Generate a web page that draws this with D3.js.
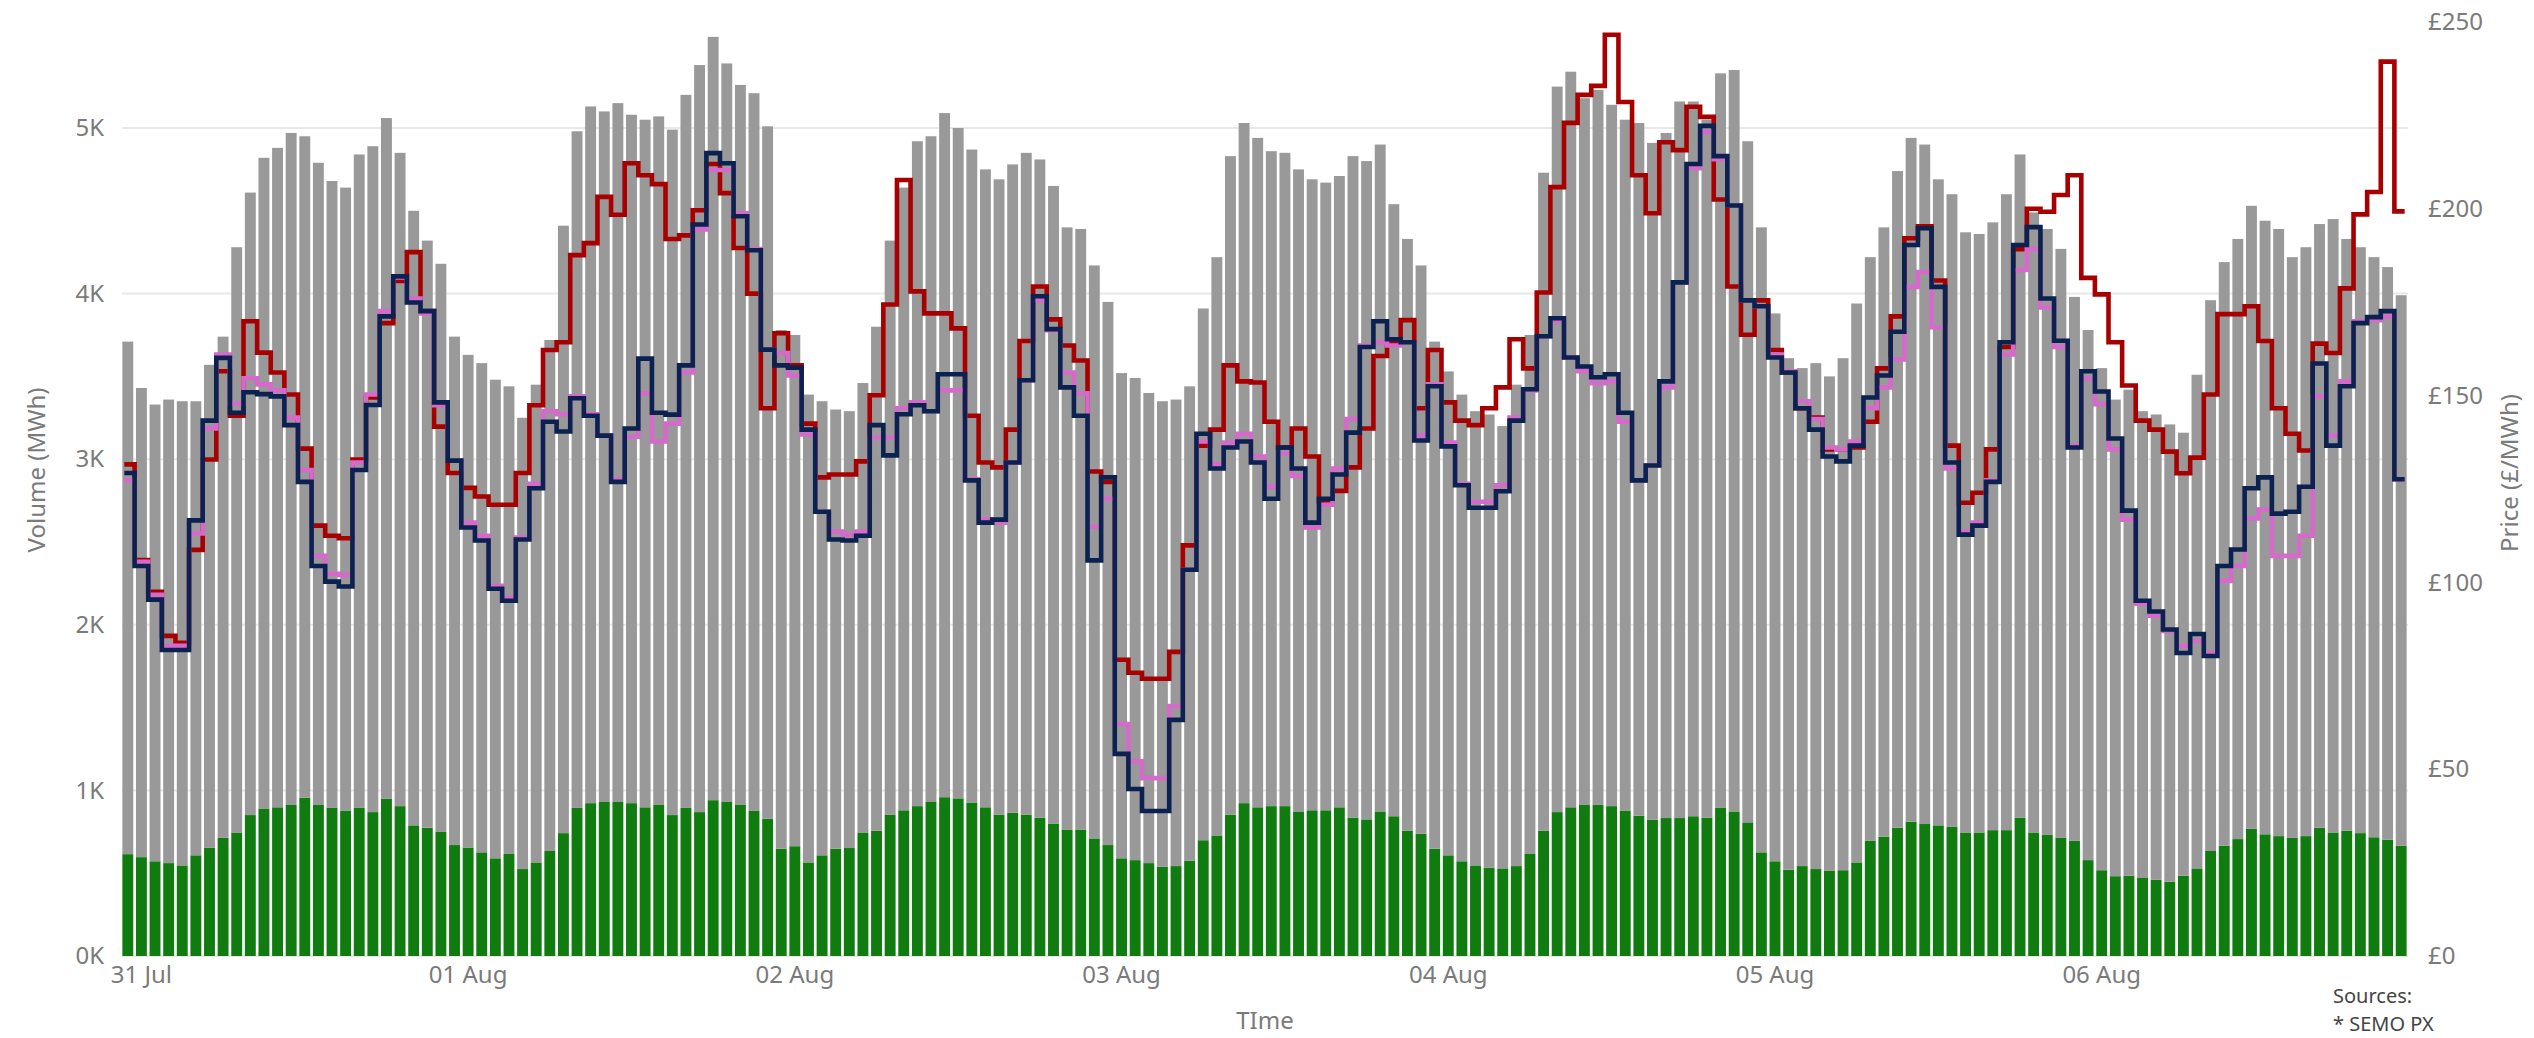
<!DOCTYPE html>
<html>
<head>
<meta charset="utf-8">
<script src="https://cdn.jsdelivr.net/npm/d3@7"></script>
<style>
  html, body { margin: 0; padding: 0; background: #fff; }
  svg { display: block; font-family: "Segoe UI", "Noto Sans", sans-serif; }
</style>
</head>
<body>
<svg width="2534" height="1038"></svg>
<script>
// hourly volumes (MWh), 168 hours
const volumeTotal = [
  3710, 3430, 3330, 3360, 3350, 3350, 3570, 3740, 4280, 4610,
  4820, 4880, 4970, 4950, 4790, 4680, 4640, 4840, 4890, 5060,
  4850, 4500, 4320, 4180, 3740, 3630, 3580, 3480, 3440, 3250,
  3450, 3720, 4410, 4980, 5130, 5100, 5150, 5080, 5050, 5070,
  4990, 5200, 5380, 5550, 5390, 5260, 5210, 5010, 3780, 3750,
  3390, 3350, 3300, 3290, 3460, 3800, 4320, 4640, 4920, 4950,
  5090, 5000, 4870, 4750, 4690, 4780, 4850, 4810, 4650, 4400,
  4390, 4170, 3950, 3520, 3490, 3400, 3350, 3360, 3440, 3910,
  4220, 4830, 5030, 4940, 4860, 4850, 4750, 4690, 4670, 4710,
  4830, 4800, 4900, 4540, 4330, 4170, 3710, 3530, 3390, 3290,
  3270, 3200, 3450, 3750, 4730, 5250, 5340, 5180, 5230, 5140,
  5050, 5030, 4910, 4970, 5160, 5160, 5050, 5330, 5350, 4920,
  4400, 3880, 3610, 3550, 3580, 3500, 3610, 3940, 4220, 4400,
  4740, 4940, 4900, 4690, 4600, 4370, 4360, 4430, 4600, 4840,
  4490, 4390, 4270, 3980, 3780, 3550, 3360, 3420, 3290, 3270,
  3210, 3160, 3510, 3960, 4190, 4330, 4530, 4440, 4390, 4220,
  4280, 4420, 4450, 4330, 4280, 4220, 4160, 3990
];

const volumeGreen = [
  615, 597, 572, 561, 547, 608, 655, 713, 746, 851,
  891, 898, 912, 956, 912, 894, 876, 894, 869, 949,
  905, 789, 775, 749, 670, 655, 626, 590, 616, 525,
  565, 634, 742, 894, 923, 930, 930, 923, 898, 912,
  851, 894, 869, 941, 930, 912, 876, 829, 648, 663,
  565, 608, 648, 652, 746, 757, 854, 880, 905, 930,
  959, 952, 927, 898, 854, 865, 854, 836, 800, 764,
  764, 710, 670, 590, 579, 561, 539, 543, 576, 699,
  728, 854, 923, 898, 905, 905, 873, 880, 880, 898,
  836, 825, 873, 844, 757, 739, 648, 608, 572, 547,
  532, 529, 543, 616, 757, 869, 898, 912, 912, 905,
  876, 847, 822, 833, 833, 844, 836, 894, 873, 807,
  626, 572, 521, 543, 525, 514, 518, 565, 695, 720,
  775, 811, 797, 789, 782, 746, 746, 760, 760, 836,
  746, 731, 713, 695, 579, 518, 482, 485, 471, 460,
  449, 485, 529, 634, 666, 706, 768, 735, 724, 713,
  724, 775, 746, 757, 742, 717, 702, 666
];

// hourly prices (£/MWh)
const priceRed = [
  131.6, 106.0, 97.5, 85.7, 83.8, 108.7, 132.9, 156.5, 144.6, 169.9,
  161.5, 156.2, 150.3, 135.8, 115.2, 112.5, 111.8, 132.9, 149.5, 169.4,
  180.7, 188.4, 172.6, 141.7, 129.3, 125.3, 123.0, 120.8, 120.8, 129.3,
  147.4, 162.2, 164.3, 187.6, 190.8, 203.2, 198.4, 212.2, 209.0, 206.6,
  191.9, 192.9, 199.6, 212.0, 204.2, 189.5, 177.3, 146.6, 166.7, 158.1,
  142.5, 128.1, 128.9, 128.9, 132.4, 150.1, 174.4, 207.7, 177.9, 172.0,
  172.0, 168.0, 144.6, 132.1, 130.8, 140.9, 164.6, 179.2, 170.4, 163.4,
  159.4, 129.7, 126.9, 79.3, 75.8, 74.2, 74.2, 81.4, 109.9, 136.6,
  140.9, 158.1, 153.8, 153.5, 143.0, 136.1, 141.2, 133.7, 121.6, 124.5,
  130.8, 141.2, 160.6, 164.3, 170.2, 146.6, 162.2, 148.2, 143.3, 142.1,
  146.6, 152.2, 165.1, 157.3, 177.6, 205.8, 223.0, 230.5, 232.9, 246.6,
  228.6, 209.0, 198.8, 217.8, 215.7, 227.3, 224.6, 202.5, 179.2, 166.3,
  175.5, 162.2, 156.2, 146.6, 144.1, 135.6, 135.6, 136.1, 143.0, 157.3,
  171.2, 192.1, 195.3, 180.8, 136.6, 121.3, 124.0, 135.6, 163.0, 189.2,
  200.0, 199.2, 203.7, 209.0, 181.5, 177.1, 164.3, 152.7, 143.3, 140.9,
  135.0, 129.2, 133.4, 150.3, 171.8, 171.8, 173.9, 164.6, 146.6, 139.8,
  135.3, 163.9, 161.4, 178.7, 198.5, 204.5, 239.4, 199.3
];

const pricePink = [
  127.3, 105.5, 96.7, 83.0, 83.0, 113.1, 141.2, 161.0, 147.8, 154.6,
  153.0, 151.4, 144.1, 130.1, 107.1, 102.3, 102.0, 132.1, 150.3, 172.6,
  181.6, 176.0, 172.0, 147.4, 132.6, 116.0, 112.5, 99.1, 95.9, 112.0,
  126.4, 145.8, 145.0, 149.8, 145.0, 139.3, 127.6, 139.0, 150.6, 137.7,
  142.5, 156.2, 194.5, 210.4, 210.4, 198.8, 189.2, 162.3, 161.4, 155.4,
  139.6, 118.9, 113.6, 112.8, 113.6, 138.8, 138.8, 146.6, 148.2, 145.8,
  151.4, 151.4, 127.6, 116.8, 116.0, 132.1, 154.1, 175.5, 167.5, 156.2,
  150.6, 114.9, 122.4, 62.1, 52.1, 47.6, 47.6, 66.9, 103.4, 137.7,
  131.6, 137.4, 139.8, 133.7, 125.6, 134.5, 128.5, 114.7, 120.8, 130.5,
  143.7, 163.4, 164.3, 163.4, 164.3, 139.3, 153.0, 137.4, 126.4, 121.6,
  121.6, 126.0, 144.1, 151.4, 165.9, 169.9, 160.2, 156.5, 153.3, 153.8,
  143.0, 127.3, 131.3, 152.2, 180.3, 210.9, 220.6, 213.3, 200.9, 175.5,
  173.9, 161.0, 156.5, 148.5, 143.7, 136.1, 135.6, 137.7, 146.6, 152.2,
  159.7, 179.1, 183.1, 168.3, 130.5, 113.6, 116.0, 127.3, 161.0, 183.6,
  189.2, 173.6, 163.0, 136.6, 154.6, 147.7, 135.6, 116.8, 94.3, 91.1,
  87.0, 83.0, 84.3, 81.1, 100.4, 104.4, 117.1, 119.5, 107.1, 107.1,
  112.5, 149.8, 139.3, 153.8, 169.9, 170.2, 171.2, 127.6
];

const priceNavy = [
  129.3, 104.4, 95.4, 81.9, 81.9, 116.6, 143.3, 160.1, 145.4, 150.9,
  150.4, 149.8, 142.1, 126.9, 104.4, 100.2, 98.9, 130.1, 147.5, 171.2,
  181.9, 174.9, 172.6, 148.2, 132.6, 114.7, 111.2, 98.3, 95.1, 111.5,
  125.2, 143.0, 140.4, 149.3, 144.6, 139.3, 126.9, 141.2, 159.9, 145.4,
  144.9, 158.1, 195.8, 214.9, 212.2, 198.0, 188.9, 162.3, 158.1, 157.5,
  140.9, 118.9, 111.5, 111.2, 112.5, 142.1, 134.0, 145.0, 147.4, 145.8,
  155.7, 155.7, 127.3, 116.0, 116.8, 132.1, 154.1, 176.6, 167.8, 152.2,
  144.6, 105.9, 128.1, 54.1, 44.7, 38.8, 38.8, 63.2, 103.4, 139.8,
  130.5, 136.1, 137.7, 132.1, 122.4, 136.1, 130.5, 116.0, 122.4, 128.9,
  140.1, 163.0, 169.9, 165.1, 164.3, 138.0, 152.5, 136.4, 126.0, 120.0,
  120.0, 124.4, 143.3, 151.7, 165.9, 170.7, 160.2, 157.8, 154.9, 155.7,
  145.4, 127.3, 131.3, 153.8, 180.3, 212.0, 222.2, 214.1, 200.9, 175.5,
  173.9, 160.2, 156.2, 146.6, 140.9, 133.7, 132.4, 136.6, 149.5, 155.4,
  167.1, 190.3, 194.8, 179.1, 132.1, 112.8, 115.2, 126.9, 164.3, 190.3,
  195.1, 176.0, 164.7, 136.1, 156.5, 151.1, 138.5, 119.2, 95.1, 92.2,
  87.4, 81.1, 86.2, 80.3, 104.4, 108.8, 125.2, 128.1, 118.4, 118.9,
  125.6, 158.6, 136.6, 152.5, 169.4, 171.0, 172.6, 127.6
];

// axis labels
const dayLabels = ["31 Jul", "01 Aug", "02 Aug", "03 Aug", "04 Aug", "05 Aug", "06 Aug"];
const volumeTicks = [0, 1000, 2000, 3000, 4000, 5000];
const priceTicks = [0, 50, 100, 150, 200, 250];

const svg = d3.select("svg");
const width = +svg.attr("width");
const height = +svg.attr("height");

const hours = d3.range(volumeTotal.length);
// first bar is the last hour of the previous day, so midnight sits on index 24*d + 1
const dayIndex = dayLabels.map((d, i) => i * 24 + 1);

const x = d3.scaleBand()
  .domain(hours)
  .range([121, 2408])
  .paddingInner(0.2)
  .paddingOuter(0.1);

const yVol = d3.scaleLinear().domain([0, 5640]).range([956, 22]);
const yPrice = d3.scaleLinear().domain([0, 250]).range([956, 22]);

const tickColor = "#7a7a7a";

// gridlines
svg.append("g")
  .selectAll("line")
  .data(volumeTicks)
  .join("line")
  .attr("x1", 122)
  .attr("x2", 2408)
  .attr("y1", d => yVol(d))
  .attr("y2", d => yVol(d))
  .attr("stroke", "#e8e8e8")
  .attr("stroke-width", 2);

// stacked bars: green first, grey on top
const bars = svg.append("g");
bars.selectAll("rect.green")
  .data(hours)
  .join("rect")
  .attr("class", "green")
  .attr("x", i => x(i))
  .attr("width", x.bandwidth())
  .attr("y", i => yVol(volumeGreen[i]))
  .attr("height", i => yVol(0) - yVol(volumeGreen[i]))
  .attr("fill", "#107c10");

bars.selectAll("rect.grey")
  .data(hours)
  .join("rect")
  .attr("class", "grey")
  .attr("x", i => x(i))
  .attr("width", x.bandwidth())
  .attr("y", i => yVol(volumeTotal[i]))
  .attr("height", i => yVol(volumeGreen[i]) - yVol(volumeTotal[i]))
  .attr("fill", "#999999");

// step lines for prices
const bw = x.bandwidth();
const last = hours.length - 1;
function stepPoints(series) {
  return [{ x: x(0) + 2, v: series[0] }]
    .concat(series.map((v, i) => ({ x: x(i) + bw / 2, v })))
    .concat([{ x: x(last) + bw - 2, v: series[last] }]);
}
const line = d3.line()
  .x(d => d.x)
  .y(d => yPrice(d.v))
  .curve(d3.curveStep);

const lineSeries = [
  { values: priceRed, color: "#a80000" },
  { values: pricePink, color: "#d66acb" },
  { values: priceNavy, color: "#0b2150" }
];

svg.append("g")
  .selectAll("path")
  .data(lineSeries)
  .join("path")
  .attr("d", d => line(stepPoints(d.values)))
  .attr("fill", "none")
  .attr("stroke", d => d.color)
  .attr("stroke-width", 4.6)
  .attr("stroke-linejoin", "miter");

// left axis
const leftAxis = svg.append("g")
  .attr("transform", "translate(104,0)")
  .call(d3.axisLeft(yVol).tickValues(volumeTicks).tickFormat(d => (d / 1000) + "K").tickSize(0).tickPadding(0));
leftAxis.select(".domain").remove();
leftAxis.selectAll("text")
  .attr("fill", tickColor)
  .style("font-size", "24px")
  .style("font-family", "'Segoe UI', 'Noto Sans', sans-serif");

// right axis
const rightAxis = svg.append("g")
  .attr("transform", "translate(2428,0)")
  .call(d3.axisRight(yPrice).tickValues(priceTicks).tickFormat(d => "£" + d).tickSize(0).tickPadding(0));
rightAxis.select(".domain").remove();
rightAxis.selectAll("text")
  .attr("fill", tickColor)
  .style("font-size", "24px")
  .style("font-family", "'Segoe UI', 'Noto Sans', sans-serif");

// bottom axis
const bottomAxis = svg.append("g")
  .attr("transform", "translate(0,966)")
  .call(d3.axisBottom(x).tickValues(dayIndex).tickFormat(i => dayLabels[dayIndex.indexOf(i)]).tickSize(0).tickPadding(0));
bottomAxis.select(".domain").remove();
bottomAxis.selectAll("text")
  .attr("fill", tickColor)
  .style("font-size", "24px")
  .style("font-family", "'Segoe UI', 'Noto Sans', sans-serif");

// axis titles
svg.append("text")
  .attr("transform", "translate(45,470) rotate(-90)")
  .attr("text-anchor", "middle")
  .attr("fill", tickColor)
  .style("font-size", "24px")
  .text("Volume (MWh)");

svg.append("text")
  .attr("transform", "translate(2518,473) rotate(-90)")
  .attr("text-anchor", "middle")
  .attr("fill", tickColor)
  .style("font-size", "24px")
  .text("Price (£/MWh)");

svg.append("text")
  .attr("x", 1265)
  .attr("y", 1029)
  .attr("text-anchor", "middle")
  .attr("fill", tickColor)
  .style("font-size", "24px")
  .text("TIme");

// sources note
svg.append("text")
  .attr("x", 2333)
  .attr("y", 1003)
  .attr("fill", "#444")
  .style("font-size", "20px")
  .text("Sources:");

svg.append("text")
  .attr("x", 2333)
  .attr("y", 1031)
  .attr("fill", "#444")
  .style("font-size", "20px")
  .text("* SEMO PX");
</script>
</body>
</html>
